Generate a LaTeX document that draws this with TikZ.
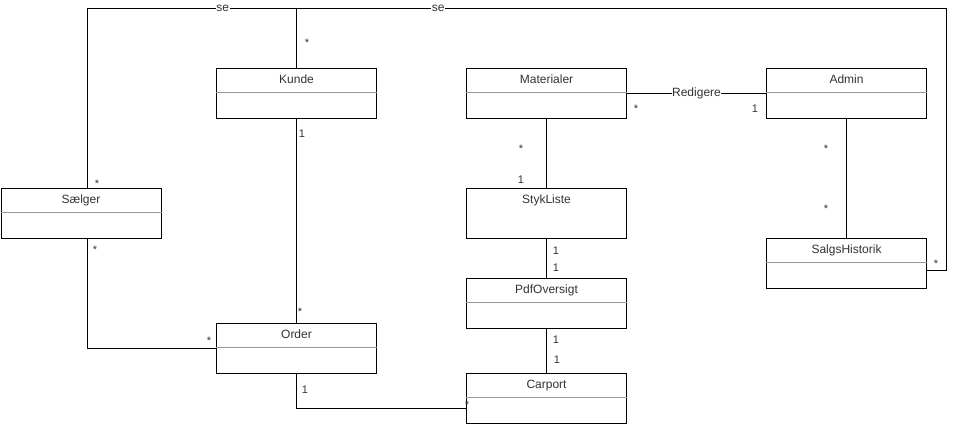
\documentclass[tikz,border=0pt]{standalone}
\usepackage{fontspec}
\setmainfont{Liberation Sans}
\usetikzlibrary{calc}
\definecolor{txt}{HTML}{333333}
\definecolor{sep}{HTML}{999999}
\tikzset{
  cls/.style={draw=black, line width=1pt, minimum width=160pt, minimum height=50pt, inner sep=0pt, anchor=north west, fill=white},
  ttl/.style={font=\fontsize{12}{12}\selectfont, text=txt, anchor=base, inner sep=0pt},
  sepline/.style={draw=sep, line width=1pt},
  conn/.style={draw=black, line width=1pt},
  elbl/.style={font=\fontsize{12}{12}\selectfont, text=txt, fill=white, inner sep=0.5pt},
  mult/.style={font=\fontsize{11}{11}\selectfont, text=txt, anchor=base, inner sep=0pt}
}
\newcommand{\umlclass}[5]{%
  \node[cls] (#1) at (#2,#3) {};
  \node[ttl] (#1-t) at ($(#1.north)+(0,15)$) {#4};
  \ifx#5y\draw[sepline] ($(#1.north west)+(0,24)$) -- ($(#1.north east)+(0,24)$);\fi
}
\begin{document}
\begin{tikzpicture}[x=1pt, y=-1pt]
\useasboundingbox (0,0) rectangle (957,424);
% classes
\umlclass{kunde}{216}{68}{Kunde}{y}
\umlclass{mat}{466}{68}{Materialer}{y}
\umlclass{admin}{766}{68}{Admin}{y}
\umlclass{saelger}{0.5}{188}{Sælger}{y}
\umlclass{styk}{466}{188}{StykListe}{n}
\umlclass{salgs}{766}{238}{SalgsHistorik}{y}
\umlclass{pdf}{466}{278}{PdfOversigt}{y}
\umlclass{order}{216}{323}{Order}{y}
\umlclass{carport}{466}{373}{Carport}{y}
% helper coordinates
\coordinate (topy) at (0,8);
\coordinate (rightx) at (946,0);
\coordinate (sa) at ($(saelger.north)+(6,0)$);
\coordinate (sb) at ($(saelger.south)+(6,0)$);
\coordinate (c1) at (sa |- topy);
\coordinate (c2) at (kunde.north |- topy);
\coordinate (c3) at (rightx |- topy);
\coordinate (shr) at ($(salgs.east)+(0,7)$);
\coordinate (c4) at (rightx |- shr);
\coordinate (cpw) at ($(carport.west)+(0,10)$);
% connectors
\draw[conn] (sa) -- (c1) -- node[elbl, pos=0.648]{se} (c2) -- (kunde.north);
\draw[conn] (c2) -- node[elbl, pos=0.218]{se} (c3) -- (c4) -- (shr);
\draw[conn] (kunde.south) -- (order.north);
\draw[conn] (sb) |- (order.west);
\draw[conn] (order.south) |- (cpw);
\draw[conn] (mat.east) -- node[elbl]{Redigere} (admin.west);
\draw[conn] (mat.south) -- (styk.north);
\draw[conn] (styk.south) -- (pdf.north);
\draw[conn] (pdf.south) -- (carport.north);
\draw[conn] (admin.south) -- (salgs.north);
% multiplicities
\node[mult] (m1) at (307,46) {*};
\node[mult] (m2) at (97,187) {*};
\node[mult] (m3) at (95,253) {*};
\node[mult] (m4) at (209,344) {*};
\node[mult] (m5) at (300,315) {*};
\node[mult] (m6) at (467,408) {*};
\node[mult] (m7) at (636,112) {*};
\node[mult] (m8) at (521,152) {*};
\node[mult] (m9) at (826,152) {*};
\node[mult] (m10) at (826,212) {*};
\node[mult] (m11) at (936,267) {*};
\node[mult] (n1) at (302,137) {1};
\node[mult] (n2) at (305,393) {1};
\node[mult] (n3) at (755,112) {1};
\node[mult] (n4) at (521,183) {1};
\node[mult] (n5) at (556,254) {1};
\node[mult] (n6) at (556,271) {1};
\node[mult] (n7) at (556,343) {1};
\node[mult] (n8) at (557,363) {1};
\end{tikzpicture}
\end{document}
